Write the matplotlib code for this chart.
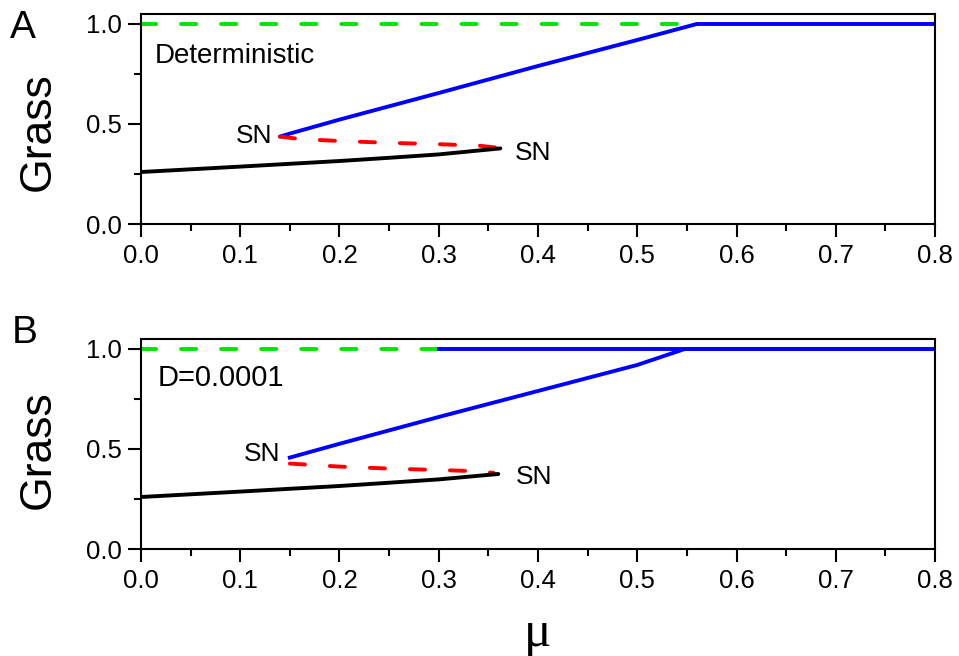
import matplotlib
matplotlib.use("Agg")
import matplotlib.pyplot as plt
from matplotlib.ticker import MultipleLocator

plt.rcParams["font.family"] = ["Liberation Sans", "DejaVu Sans"]

# panel A (deterministic)
a_black_mu = [0.0, 0.1, 0.2, 0.25, 0.3, 0.362]
a_black_g = [0.26, 0.287, 0.315, 0.331, 0.348, 0.378]
a_red_mu = [0.14, 0.16, 0.2, 0.25, 0.3, 0.34, 0.362]
a_red_g = [0.437, 0.425, 0.415, 0.406, 0.399, 0.392, 0.38]
a_blue_mu = [0.14, 0.15, 0.2, 0.3, 0.4, 0.5, 0.56, 0.8]
a_blue_g = [0.437, 0.452, 0.522, 0.655, 0.79, 0.92, 1.0, 1.0]
a_green_mu = [0.0, 0.555]
a_green_g = [1.0, 1.0]

# panel B (D=0.0001)
b_black_mu = [0.0, 0.1, 0.2, 0.24, 0.3, 0.36]
b_black_g = [0.26, 0.287, 0.315, 0.328, 0.348, 0.375]
b_red_mu = [0.15, 0.2, 0.25, 0.3, 0.33, 0.355]
b_red_g = [0.427, 0.412, 0.402, 0.395, 0.39, 0.381]
b_blue_mu = [0.15, 0.2, 0.3, 0.4, 0.5, 0.548, 0.8]
b_blue_g = [0.457, 0.526, 0.66, 0.79, 0.92, 1.0, 1.0]
b_blue_top_mu = [0.3, 0.8]
b_blue_top_g = [1.0, 1.0]
b_green_mu = [0.0, 0.3]
b_green_g = [1.0, 1.0]

x_ticks = [0.0, 0.1, 0.2, 0.3, 0.4, 0.5, 0.6, 0.7, 0.8]
y_ticks = [0.0, 0.5, 1.0]

BLUE = "#0000ff"
RED = "#ff0000"
GREEN = "#00e400"
LW = 2.8
DASH = (0, (3.9, 6.4))

fig = plt.figure(figsize=(9.59, 6.56), dpi=100)
ax_a = fig.add_axes([0.147, 0.6585, 0.828, 0.3202])
ax_b = fig.add_axes([0.147, 0.1631, 0.828, 0.3202])


def style(ax):
    ax.set_xlim(0, 0.8)
    ax.set_ylim(0, 1.05)
    ax.set_xticks(x_ticks)
    ax.set_yticks(y_ticks)
    ax.set_xticklabels([f"{v:.1f}" for v in x_ticks])
    ax.set_yticklabels([f"{v:.1f}" for v in y_ticks])
    ax.xaxis.set_minor_locator(MultipleLocator(0.05))
    ax.yaxis.set_minor_locator(MultipleLocator(0.25))
    ax.tick_params(which="major", direction="out", length=9.5, width=1.5,
                   labelsize=18.5, pad=4)
    ax.tick_params(which="minor", direction="out", length=5, width=1.5)
    ax.tick_params(axis="x", which="major", pad=5)
    for s in ax.spines.values():
        s.set_linewidth(1.5)


def dashed(ax, x, y, color):
    ax.plot(x, y, color=color, lw=LW, linestyle=DASH, dash_capstyle="round")


# panel A
dashed(ax_a, a_green_mu, a_green_g, GREEN)
ax_a.plot(a_blue_mu, a_blue_g, color=BLUE, lw=LW, solid_capstyle="round")
dashed(ax_a, a_red_mu, a_red_g, RED)
ax_a.plot(a_black_mu, a_black_g, color="black", lw=LW, solid_capstyle="round")
ax_a.text(0.132, 0.405, "SN", fontsize=19, ha="right", va="baseline")
ax_a.text(0.377, 0.32, "SN", fontsize=19, ha="left", va="baseline")
ax_a.text(0.014, 0.803, "Deterministic", fontsize=20, ha="left", va="baseline")
style(ax_a)

# panel B
dashed(ax_b, b_green_mu, b_green_g, GREEN)
ax_b.plot(b_blue_top_mu, b_blue_top_g, color=BLUE, lw=LW)
ax_b.plot(b_blue_mu, b_blue_g, color=BLUE, lw=LW)
dashed(ax_b, b_red_mu, b_red_g, RED)
ax_b.plot(b_black_mu, b_black_g, color="black", lw=LW, solid_capstyle="round")
ax_b.text(0.14, 0.44, "SN", fontsize=19, ha="right", va="baseline")
ax_b.text(0.378, 0.325, "SN", fontsize=19, ha="left", va="baseline")
ax_b.text(0.017, 0.815, "D=0.0001", fontsize=21, ha="left", va="baseline")
style(ax_b)

# panel letters and axis labels
fig.text(0.0104, 0.942, "A", fontsize=28, ha="left", va="baseline")
fig.text(0.0125, 0.477, "B", fontsize=28, ha="left", va="baseline")
fig.text(0.040, 0.799, "Grass", fontsize=32, rotation=90, ha="center", va="center")
fig.text(0.040, 0.314, "Grass", fontsize=32, rotation=90, ha="center", va="center")
fig.text(0.561, 0.016, "μ", fontsize=37, family=["Liberation Serif", "DejaVu Serif"],
         ha="center", va="baseline")

fig.savefig("out.png", dpi=100)
